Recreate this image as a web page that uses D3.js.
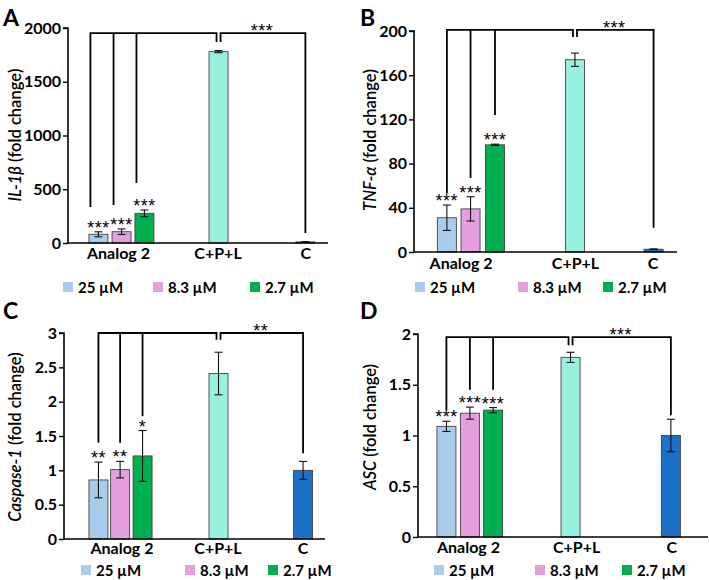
<!DOCTYPE html>
<html>
<head>
<meta charset="utf-8">
<script src="https://cdn.jsdelivr.net/npm/d3@7"></script>
<style>
body { margin: 0; background: #fff; }
text { font-family: Lato, "Open Sans", sans-serif; fill: #000; }
</style>
</head>
<body>
<svg id="fig" width="709" height="580"></svg>
<script>
// ---- data ----
const legendLabels = ["25 µM", "8.3 µM", "2.7 µM"];
const categories = ["Analog 2", "C+P+L", "C"];

const il1bMean = [81, 105, 276, 1780, 10];
const il1bErr = [23, 26, 31, 10, 2];
const il1bTicks = [0, 500, 1000, 1500, 2000];
const il1bStars = ["***", "***", "***"];

const tnfMean = [31, 39, 97, 174, 2.5];
const tnfErr = [11.5, 11, 0.6, 6, 0.3];
const tnfTicks = [0, 40, 80, 120, 160, 200];
const tnfStars = ["***", "***", "***"];

const caspMean = [0.86, 1.01, 1.21, 2.41, 1.0];
const caspErr = [0.26, 0.12, 0.37, 0.31, 0.13];
const caspTicks = [0, 0.5, 1, 1.5, 2, 2.5, 3];
const caspStars = ["**", "**", "*"];

const ascMean = [1.09, 1.22, 1.25, 1.77, 1.0];
const ascErr = [0.05, 0.06, 0.025, 0.05, 0.16];
const ascTicks = [0, 0.5, 1, 1.5, 2];
const ascStars = ["***", "***", "***"];

const colors = ["#a9cbec", "#e3a0dc", "#00b050", "#97f1df", "#1b72c8"];

// ---- layout ----
const panels = [
    {letter: "A", lx: 3, ly: 26, left: 68, right: 328, top: 28, bottom: 243,
     slots: [.117, .206, .294, .579, .913], labels: [.194, .577, .915], catY: 259,
     gene: "IL-1β", axX: 15, axY: 135,
     mean: il1bMean, err: il1bErr, ticks: il1bTicks, stars: il1bStars, topStars: "***",
     brTop: 1953, drops: [335, 353, 558], cDrop: 93, notch: 1870, brOff: -8,
     legX: [63, 153, 250], legY: 287},
    {letter: "B", lx: 360, ly: 26, left: 414, right: 677, top: 31, bottom: 252,
     slots: [.125, .215, .308, .612, .911], labels: [.179, .614, .909], catY: 269,
     gene: "TNF-α", axX: 370, axY: 140,
     mean: tnfMean, err: tnfErr, ticks: tnfTicks, stars: tnfStars, topStars: "***",
     brTop: 201, drops: [53, 67, 124], cDrop: 22, notch: 194.5, brOff: 0,
     legX: [415, 518, 603], legY: 287},
    {letter: "C", lx: 3, ly: 319, left: 64, right: 325, top: 333, bottom: 539,
     slots: [.132, .215, .301, .592, .916], labels: [.222, .59, .916], catY: 554,
     gene: "Caspase-1", axX: 15, axY: 437,
     mean: caspMean, err: caspErr, ticks: caspTicks, stars: caspStars, topStars: "**",
     brTop: 3.0, drops: [1.4, 1.4, 1.79], cDrop: 1.25, notch: 2.9, brOff: 0,
     legX: [81, 185, 268], legY: 570},
    {letter: "D", lx: 360, ly: 319, left: 418, right: 708, top: 334, bottom: 537,
     slots: [.098, .179, .259, .526, .872], labels: [.174, .547, .875], catY: 553,
     gene: "ASC", axX: 370, axY: 427,
     mean: ascMean, err: ascErr, ticks: ascTicks, stars: ascStars, topStars: "***",
     brTop: 1.97, drops: [1.25, 1.45, 1.45], cDrop: 1.2, notch: 1.89, brOff: 0,
     legX: [434, 535, 622], legY: 570}
];

const svg = d3.select("#fig");
const barW = 19;
const starFont = "'Liberation Sans', Arial, sans-serif";

panels.forEach(p => drawPanel(svg.append("g"), p));

function drawPanel(g, p) {
    const y = d3.scaleLinear()
        .domain([0, d3.max(p.ticks)])
        .range([p.bottom, p.top]);
    const x = d3.scaleLinear()
        .domain([0, 1])
        .range([p.left, p.right]);

    // bars
    g.selectAll("rect.bar")
        .data(p.mean)
        .join("rect")
        .attr("class", "bar")
        .attr("x", (d, i) => x(p.slots[i]) - barW / 2)
        .attr("y", d => y(d))
        .attr("width", barW)
        .attr("height", d => p.bottom - y(d))
        .attr("fill", (d, i) => colors[i])
        .attr("stroke", "#444")
        .attr("stroke-width", 0.9);

    // error bars
    const eb = g.selectAll("g.err")
        .data(p.mean)
        .join("g")
        .attr("class", "err")
        .attr("stroke", "#111")
        .attr("stroke-width", 1.1);
    eb.append("line")
        .attr("x1", (d, i) => x(p.slots[i])).attr("x2", (d, i) => x(p.slots[i]))
        .attr("y1", (d, i) => y(d + p.err[i])).attr("y2", (d, i) => y(d - p.err[i]));
    [1, -1].forEach(s => {
        eb.append("line")
            .attr("x1", (d, i) => x(p.slots[i]) - 4).attr("x2", (d, i) => x(p.slots[i]) + 4)
            .attr("y1", (d, i) => y(d + s * p.err[i])).attr("y2", (d, i) => y(d + s * p.err[i]));
    });

    // axes
    const yAxis = d3.axisLeft(y)
        .tickValues(p.ticks)
        .tickSize(5)
        .tickPadding(2)
        .tickFormat(d => d);
    const ya = g.append("g")
        .attr("transform", `translate(${p.left},0)`)
        .call(yAxis);
    ya.select(".domain").attr("stroke-width", 1.6).attr("d", `M-5,${p.top}H0V${p.bottom}`);
    ya.selectAll(".tick line").attr("stroke-width", 1.4);
    ya.selectAll(".tick text")
        .attr("font-size", 16)
        .attr("font-weight", 700)
        .style("font-family", "Lato, sans-serif");

    g.append("line")
        .attr("x1", p.left).attr("x2", p.right)
        .attr("y1", p.bottom).attr("y2", p.bottom)
        .attr("stroke", "#000")
        .attr("stroke-width", 1.6);

    // category labels
    g.selectAll("text.cat")
        .data(categories)
        .join("text")
        .attr("class", "cat")
        .attr("x", (d, i) => x(p.labels[i]))
        .attr("y", p.catY)
        .attr("text-anchor", "middle")
        .attr("font-size", 16)
        .attr("font-weight", 700)
        .text(d => d);

    // y label
    const yl = g.append("text")
        .attr("transform", `translate(${p.axX},${p.axY}) rotate(-90)`)
        .attr("text-anchor", "middle")
        .attr("dy", "0.35em")
        .attr("font-size", 16.5)
        .attr("font-weight", 600);
    yl.append("tspan").attr("font-style", "italic").text(p.gene);
    yl.append("tspan").text(" (fold change)");

    // panel letter
    g.append("text")
        .attr("x", p.lx).attr("y", p.ly)
        .attr("font-size", 23)
        .attr("font-weight", 700)
        .text(p.letter);

    // significance brackets
    const cpl = x(p.slots[3]);
    const cx = x(p.slots[4]);
    const bx = [0, 1, 2].map(i => x(p.slots[i]) + p.brOff);
    const yt = y(p.brTop);
    const br = g.append("g")
        .attr("fill", "none")
        .attr("stroke", "#000")
        .attr("stroke-width", 1.8);
    br.append("path")
        .attr("d", `M${bx[0]},${y(p.drops[0])}V${yt}H${cpl - 2}V${y(p.notch)}`);
    br.append("path")
        .attr("d", `M${cpl + 2},${y(p.notch)}V${yt}H${cx}V${y(p.cDrop)}`);
    [1, 2].forEach(i => {
        br.append("line")
            .attr("x1", bx[i]).attr("x2", bx[i])
            .attr("y1", yt).attr("y2", y(p.drops[i]));
    });

    // stars (text baseline sits ~10px under the glyph centre)
    g.selectAll("text.star")
        .data(p.stars)
        .join("text")
        .attr("class", "star")
        .attr("x", (d, i) => x(p.slots[i]))
        .attr("y", (d, i) => y(p.mean[i] + p.err[i]) - 8 + 10)
        .attr("text-anchor", "middle")
        .attr("font-size", 18)
        .attr("letter-spacing", 0.5)
        .style("font-family", starFont)
        .attr("fill", "#333")
        .text(d => d);
    g.append("text")
        .attr("x", (cpl + cx) / 2)
        .attr("y", yt - 6 + 10)
        .attr("text-anchor", "middle")
        .attr("font-size", 18)
        .attr("letter-spacing", 0.5)
        .style("font-family", starFont)
        .attr("fill", "#333")
        .text(p.topStars);

    // legend
    const lg = g.selectAll("g.leg")
        .data(legendLabels)
        .join("g")
        .attr("class", "leg")
        .attr("transform", (d, i) => `translate(${p.legX[i]},${p.legY})`);
    lg.append("rect")
        .attr("x", 0).attr("y", -5)
        .attr("width", 10).attr("height", 10)
        .attr("fill", (d, i) => colors[i]);
    lg.append("text")
        .attr("x", 15).attr("y", 5.5)
        .attr("font-size", 15)
        .attr("font-weight", 700)
        .text(d => d);
}
</script>
</body>
</html>
